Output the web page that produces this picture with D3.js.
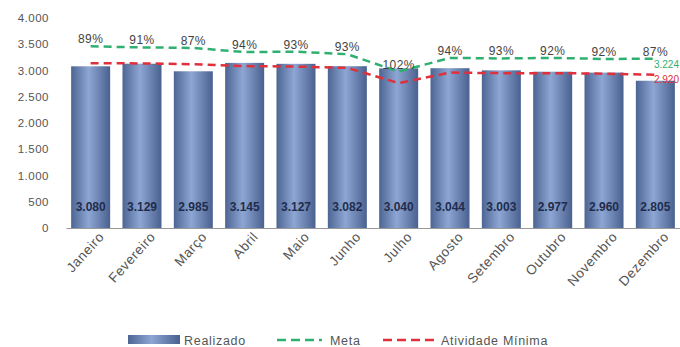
<!DOCTYPE html>
<html>
<head>
<meta charset="utf-8">
<script src="https://cdn.jsdelivr.net/npm/d3@7"></script>
<style>
  body { margin: 0; background: #fff; }
  svg { font-family: "Liberation Sans", Arial, sans-serif; }
</style>
</head>
<body>
<div id="chart"></div>
<script>
// Données
const months = ['Janeiro', 'Fevereiro', 'Março', 'Abril', 'Maio', 'Junho',
  'Julho', 'Agosto', 'Setembro', 'Outubro', 'Novembro', 'Dezembro'];
const realizado = [3080, 3129, 2985, 3145, 3127, 3082, 3040, 3044, 3003, 2977, 2960, 2805];
const meta = [3460, 3440, 3430, 3350, 3360, 3310, 2980, 3240, 3230, 3240, 3220, 3224];
const atividadeMinima = [3140, 3135, 3120, 3085, 3075, 3050, 2760, 2960, 2950, 2950, 2940, 2920];
const percentLabels = ['89%', '91%', '87%', '94%', '93%', '93%', '102%', '94%', '93%', '92%', '92%', '87%'];
const yTicks = [0, 500, 1000, 1500, 2000, 2500, 3000, 3500, 4000];

const ptBR = d3.formatLocale({ decimal: ',', thousands: '.', grouping: [3], currency: ['R$', ''] });
const fmt = ptBR.format(',d');

const width = 680, height = 347;
const margin = { top: 18, right: 0, bottom: 119, left: 66 };
const innerW = width - margin.left - margin.right,
  innerH = height - margin.top - margin.bottom;

const svg = d3.select('#chart').append('svg')
  .attr('width', width).attr('height', height);

// Dégradé des barres (effet cylindre)
const defs = svg.append('defs');
const grad = defs.append('linearGradient').attr('id', 'barGrad')
  .attr('x1', '0%').attr('x2', '100%').attr('y1', '0%').attr('y2', '0%');
grad.append('stop').attr('offset', '0%').attr('stop-color', '#4d6593');
grad.append('stop').attr('offset', '45%').attr('stop-color', '#8ea6d3');
grad.append('stop').attr('offset', '100%').attr('stop-color', '#4a6190');

const g = svg.append('g').attr('transform', `translate(${margin.left},${margin.top})`);

const x = d3.scaleBand().domain(months).range([0, innerW]).paddingInner(0.24).paddingOuter(0.1);
const y = d3.scaleLinear().domain([0, 4000]).range([innerH, 0]);

// Axe Y
const yAxis = g.append('g')
  .call(d3.axisLeft(y).tickValues(yTicks).tickFormat(fmt).tickSize(0).tickPadding(17));
yAxis.select('.domain').remove();
yAxis.selectAll('text').attr('fill', '#555').style('font-size', '11.5px').style('letter-spacing', '0.5px');

// Barres
g.selectAll('.bar').data(realizado).join('rect')
  .attr('class', 'bar')
  .attr('x', (d, i) => x(months[i]))
  .attr('y', d => y(d))
  .attr('width', x.bandwidth())
  .attr('height', d => innerH - y(d))
  .attr('fill', 'url(#barGrad)');

// Axe X
const xAxis = g.append('g').attr('transform', `translate(0,${innerH})`)
  .call(d3.axisBottom(x).tickSize(0).tickPadding(10));
xAxis.select('.domain').attr('stroke', '#999');
xAxis.selectAll('text')
  .attr('fill', '#555').style('font-size', '13.5px').style('letter-spacing', '0.6px')
  .attr('text-anchor', 'end')
  .attr('dx', '0.2em').attr('dy', '0.5em')
  .attr('transform', 'rotate(-48)');

// Valeurs dans les barres
g.selectAll('.val').data(realizado).join('text')
  .attr('x', (d, i) => x(months[i]) + x.bandwidth() / 2)
  .attr('y', y(0) - 17)
  .attr('text-anchor', 'middle')
  .attr('fill', '#1f2d4d')
  .style('font-size', '12px').style('font-weight', 'bold')
  .text(d => fmt(d));

const cx = (d, i) => x(months[i]) + x.bandwidth() / 2;

// Ligne Meta
g.append('path').datum(meta)
  .attr('fill', 'none').attr('stroke', '#2fb070').attr('stroke-width', 2.5)
  .attr('stroke-dasharray', '8,5')
  .attr('d', d3.line().x(cx).y(d => y(d)));

// Ligne Atividade Mínima
g.append('path').datum(atividadeMinima)
  .attr('fill', 'none').attr('stroke', '#e0303c').attr('stroke-width', 2.5)
  .attr('stroke-dasharray', '8,5')
  .attr('d', d3.line().x(cx).y(d => y(d)));

// Pourcentages au-dessus de la meta
g.selectAll('.pct').data(meta).join('text')
  .attr('x', cx)
  .attr('y', d => y(d) - 3)
  .attr('text-anchor', 'middle')
  .attr('fill', '#444')
  .style('font-size', '12px').style('letter-spacing', '0.4px')
  .text((d, i) => percentLabels[i]);

// Étiquettes des derniers points
const last = months.length - 1;
g.append('text')
  .attr('x', innerW - 1).attr('y', y(meta[last]) + 9)
  .attr('text-anchor', 'end')
  .attr('fill', '#2fb070').style('font-size', '10px')
  .text(fmt(meta[last]));
g.append('text')
  .attr('x', innerW - 1).attr('y', y(atividadeMinima[last]) + 8)
  .attr('text-anchor', 'end')
  .attr('fill', '#e0303c').style('font-size', '10px')
  .text(fmt(atividadeMinima[last]));

// Légende
const legend = svg.append('g').attr('transform', 'translate(0,340)');
const legendText = sel => sel.attr('fill', '#555').style('font-size', '12.5px').style('letter-spacing', '0.7px');
legend.append('rect').attr('x', 128).attr('y', -5).attr('width', 52).attr('height', 9)
  .attr('fill', 'url(#barGrad)');
legend.append('text').attr('x', 184).attr('y', 4.5).call(legendText).text('Realizado');
legend.append('line').attr('x1', 277).attr('x2', 322).attr('y1', 0).attr('y2', 0)
  .attr('stroke', '#2fb070').attr('stroke-width', 2.5).attr('stroke-dasharray', '9,5');
legend.append('text').attr('x', 330).attr('y', 4.5).call(legendText).text('Meta');
legend.append('line').attr('x1', 383).attr('x2', 437).attr('y1', 0).attr('y2', 0)
  .attr('stroke', '#e0303c').attr('stroke-width', 2.5).attr('stroke-dasharray', '9,5');
legend.append('text').attr('x', 441).attr('y', 4.5).call(legendText).text('Atividade Mínima');
</script>
</body>
</html>
